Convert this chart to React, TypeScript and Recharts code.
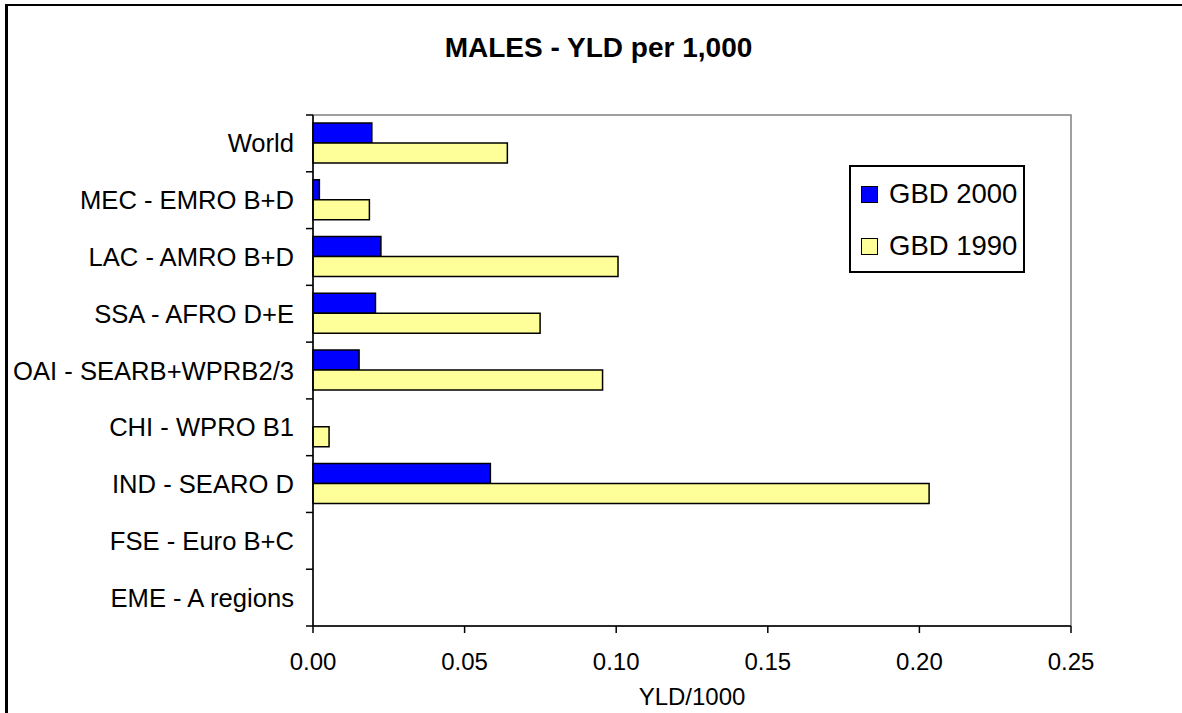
import React from 'react';
import { BarChart, Bar, XAxis, YAxis, Legend, ReferenceArea, Label } from 'recharts';

const categories = [
  'World',
  'MEC - EMRO B+D',
  'LAC - AMRO B+D',
  'SSA - AFRO D+E',
  'OAI - SEARB+WPRB2/3',
  'CHI - WPRO B1',
  'IND - SEARO D',
  'FSE - Euro B+C',
  'EME - A regions',
];
const gbd2000 = [0.0194, 0.0021, 0.0224, 0.0206, 0.0152, 0, 0.0585, 0, 0];
const gbd1990 = [0.0641, 0.0186, 0.1006, 0.0749, 0.0955, 0.0053, 0.2032, 0, 0];
const xTicks = [0, 0.05, 0.1, 0.15, 0.2, 0.25];

const data = categories.map((name, i) => ({ name, gbd2000: gbd2000[i], gbd1990: gbd1990[i] }));

const FONT = '"Liberation Sans", Arial, sans-serif';

const PLOT_TOP = 115;
const X_AXIS_H = 87;
const CHART_H = 713;
const Y_AXIS_W = 313;
const BAND = (CHART_H - PLOT_TOP - X_AXIS_H) / categories.length;

// category label plus Excel-style marks on the band boundaries
const CategoryTick = (props: any) => {
  const { x, y, payload, index } = props;
  const cy = Number(y);
  const half = BAND / 2;
  return (
    <g>
      <text
        x={Number(x) - 19}
        y={cy}
        textAnchor="end"
        dominantBaseline="central"
        fontSize={25.6}
        fontFamily={FONT}
        fill="#000"
      >
        {payload.value}
      </text>
      <path d={`M${Y_AXIS_W - 7},${cy - half}H${Y_AXIS_W}`} stroke="#000" strokeWidth={1.5} fill="none" />
      {index === categories.length - 1 && (
        <path d={`M${Y_AXIS_W - 7},${cy + half}H${Y_AXIS_W}`} stroke="#000" strokeWidth={1.5} fill="none" />
      )}
    </g>
  );
};

const LegendBox = () => (
  <div
    style={{
      border: '2px solid #000',
      width: 172,
      height: 104,
      boxSizing: 'content-box',
      background: '#fff',
      fontFamily: FONT,
      fontSize: 27.5,
      position: 'relative',
    }}
  >
    {[
      { label: 'GBD 2000', color: '#0000FF', top: 12 },
      { label: 'GBD 1990', color: '#FFFF99', top: 64 },
    ].map((item) => (
      <div key={item.label} style={{ position: 'absolute', left: 10, top: item.top, display: 'flex', alignItems: 'center', height: 30 }}>
        <span
          style={{
            display: 'inline-block',
            width: 15,
            height: 15,
            background: item.color,
            border: '1.5px solid #000',
            marginRight: 11,
          }}
        />
        <span style={{ lineHeight: '30px', whiteSpace: 'nowrap' }}>{item.label}</span>
      </div>
    ))}
  </div>
);

export default function App() {
  return (
    <div style={{ position: 'absolute', left: 0, top: 0, width: 1182, height: CHART_H, overflow: 'hidden', background: '#fff' }}>
      <div
        style={{
          position: 'absolute',
          left: 5,
          top: 4,
          width: 1200,
          height: 760,
          borderLeft: '3px solid #000',
          borderTop: '2.5px solid #000',
        }}
      />
      <div
        style={{
          position: 'absolute',
          left: 0,
          top: 34,
          width: 1197,
          textAlign: 'center',
          fontFamily: FONT,
          fontWeight: 'bold',
          fontSize: 28,
          lineHeight: '28px',
        }}
      >
        MALES - YLD per 1,000
      </div>
      <BarChart
        width={1182}
        height={CHART_H}
        data={data}
        layout="vertical"
        margin={{ top: PLOT_TOP, right: 111, bottom: 0, left: 0 }}
        barCategoryGap="14%"
        barGap={0}
        style={{ position: 'absolute', left: 0, top: 0 }}
      >
        <ReferenceArea x1={0} x2={0.25} fill="none" stroke="#808080" strokeWidth={1.5} />
        <XAxis
          type="number"
          domain={[0, 0.25]}
          ticks={xTicks}
          tickFormatter={(v: number) => v.toFixed(2)}
          height={X_AXIS_H}
          tickSize={7}
          tickMargin={20}
          axisLine={{ stroke: '#000', strokeWidth: 1.5 }}
          tickLine={{ stroke: '#000', strokeWidth: 1.5 }}
          tick={{ fontSize: 24, fontFamily: FONT, fill: '#000' }}
        >
          <Label value="YLD/1000" position="insideBottom" offset={8} fontSize={24} fontFamily={FONT} fill="#000" />
        </XAxis>
        <YAxis
          type="category"
          dataKey="name"
          width={Y_AXIS_W}
          tickSize={0}
          tickMargin={0}
          tickLine={false}
          axisLine={{ stroke: '#000', strokeWidth: 1.5 }}
          tick={<CategoryTick />}
          interval={0}
        />
        <Legend
          layout="vertical"
          align="center"
          verticalAlign="middle"
          content={<LegendBox />}
          wrapperStyle={{ position: 'absolute', left: 849, top: 165, width: 176, height: 108 }}
        />
        <Bar dataKey="gbd2000" name="GBD 2000" fill="#0000FF" stroke="#000" strokeWidth={1.5} isAnimationActive={false} />
        <Bar dataKey="gbd1990" name="GBD 1990" fill="#FFFF99" stroke="#000" strokeWidth={1.5} isAnimationActive={false} />
      </BarChart>
    </div>
  );
}
